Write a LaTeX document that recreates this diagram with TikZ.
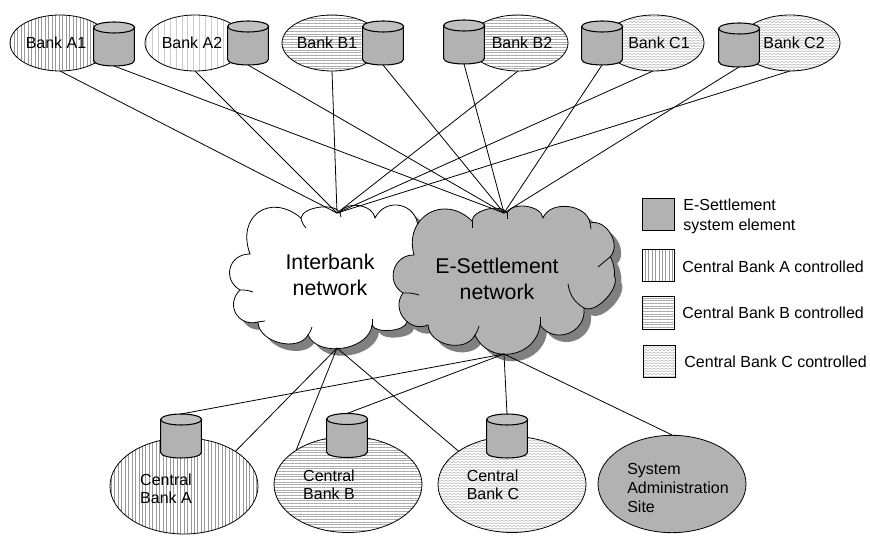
\documentclass[tikz,border=0pt]{standalone}
\usepackage{fontspec}
\setmainfont{Liberation Sans}
\usetikzlibrary{shapes.geometric,patterns,patterns.meta}
\definecolor{elemgray}{HTML}{B2B2B2}
\definecolor{endgray}{HTML}{C0C0C0}
\definecolor{shadowgray}{HTML}{808080}
\pgfdeclarepatternformonly{wavy}{\pgfqpoint{-1pt}{-1pt}}{\pgfqpoint{4pt}{3pt}}{\pgfqpoint{3pt}{2pt}}{
  \pgfsetlinewidth{0.25pt}
  \pgfpathmoveto{\pgfqpoint{0pt}{0.5pt}}
  \pgfpathlineto{\pgfqpoint{1.5pt}{1.5pt}}
  \pgfpathlineto{\pgfqpoint{3pt}{0.5pt}}
  \pgfusepath{stroke}
}
\tikzset{
  ctrlA/.style={pattern={Lines[angle=90,distance=2.6pt,line width=0.25pt]},pattern color=black!40},
  ctrlAwide/.style={pattern={Lines[angle=90,distance=4.4pt,line width=0.5pt]},pattern color=black!20},
  ctrlB/.style={pattern={Lines[angle=0,distance=2pt,line width=0.25pt]},pattern color=black!35},
  ctrlC/.style={pattern=wavy,pattern color=black!40},
  ctrlS/.style={fill=elemgray},
  bank/.style={draw,ellipse,inner sep=0pt,minimum width=75pt,minimum height=42pt},
  central/.style={draw,ellipse,inner sep=0pt,minimum width=111pt,minimum height=72pt},
  storebox/.style={inner sep=0pt,outer sep=0pt,minimum width=30.5pt,minimum height=33pt},
  legendbox/.style={draw,inner sep=0pt,minimum size=24.5pt},
  txt/.style={inner sep=0pt,align=left,font=\fontsize{12}{13.5}\selectfont},
  legendtxt/.style={inner sep=0pt,anchor=west,align=left,font=\fontsize{12}{15}\selectfont},
  cloudtxt/.style={inner sep=0pt,align=center,font=\fontsize{16}{19.5}\selectfont},
  puff/.style={bend right=75,looseness=#1}
}
\newcommand{\ibpath}{(250,254) to[puff=1.45] (240,290) to[puff=1.45] (258,322) to[puff=1] (308,335) to[puff=1] (372,325) to[puff=.7] (407,322) -- (418,227) to[puff=1.4] (375,218) to[puff=1] (340,213) to[puff=.75] (301,218) to[puff=1.65] cycle}
\newcommand{\espath}{(414,255) to[puff=1.35] (403,293) to[puff=1.3] (428,325) to[puff=1.1] (475,335) to[puff=1.3] (540,325) to[puff=1.35] (584,308) to[puff=.8] (614,275) to[puff=.3] (610,257) to[puff=1.1] (590,223) to[puff=1.05] (543,218) to[puff=.9] (507,213) to[puff=.8] (472,221) to[puff=1.5] cycle}
\newcommand{\store}[3]{
\node[storebox] (#1) at (#2,#3) {};
\draw[line width=.8pt,fill=elemgray] ([shift={(0,5.5)}]#1.north west) -- ([shift={(0,-5.5)}]#1.south west) .. controls ([shift={(0,1.8)}]#1.south west) and ([shift={(0,1.8)}]#1.south east) .. ([shift={(0,-5.5)}]#1.south east) -- ([shift={(0,5.5)}]#1.north east) -- cycle;
\draw[line width=.8pt,fill=endgray] ([shift={(20.5,5.5)}]#1.north west) ellipse [x radius=20.5,y radius=5.5];
}
\begin{document}
\begin{tikzpicture}[x=0.75pt,y=-0.75pt,line width=.6pt]
\useasboundingbox (0,0) rectangle (870,538);
\coordinate (ibtop) at (337,213);
\coordinate (ibbot) at (337,348);
\coordinate (estop) at (504,213);
\coordinate (esbot) at (504,354);
\fill[shadowgray,shift={(7,7)}] \ibpath;
\draw[fill=white] \ibpath;
\draw (240,290) to[bend left=10] (253,292);
\draw (258,322) -- (265,321);
\draw (308,335) to[bend right=10] (312,327);
\draw (372,325) -- (372,319);
\draw (301,218) to[bend right=15] (306,228);
\draw (340,213) -- (341,217);
\fill[shadowgray,shift={(7,7)}] \espath;
\draw[fill=elemgray] \espath;
\draw (403,293) to[bend left=10] (419,295);
\draw (475,335) to[bend right=10] (479,326);
\draw (540,325) -- (540,317);
\draw (584,308) to[bend left=25] (568,284);
\draw (610,257) -- (598,267);
\draw (590,223) -- (591,229);
\draw (507,213) -- (507,219);
\draw (472,221) -- (472,228);
\node[cloudtxt] (ibnet) at (330,275) {Interbank\\network};
\node[cloudtxt] (esnet) at (497,279) {E-Settlement\\network};
\coordinate (A1b) at (60,71);
\coordinate (A2b) at (195,71);
\coordinate (B1b) at (332,71);
\coordinate (B2b) at (518,71);
\coordinate (C1b) at (653,71);
\coordinate (C2b) at (790,71);
\draw (A1b) -- (ibtop);
\draw (A2b) -- (ibtop);
\draw (B1b) -- (ibtop);
\draw (B2b) -- (ibtop);
\draw (C1b) -- (ibtop);
\draw (C2b) -- (ibtop);
\node[bank,ctrlA] (A1) at (60,43) {};
\node[bank,ctrlAwide] (A2) at (195,43) {};
\node[bank,ctrlB] (B1) at (332,43) {};
\node[bank,ctrlB] (B2) at (518,43) {};
\node[bank,ctrlC] (C1) at (654,43) {};
\node[bank,ctrlC] (C2) at (790,43) {};
\store{dA1}{114}{44}
\store{dA2}{248}{43}
\store{dB1}{383}{43}
\store{dB2}{464}{42}
\store{dC1}{602}{43}
\store{dC2}{739}{45}
\draw (dA1.south) -- (estop);
\draw (dA2.south) -- (estop);
\draw (dB1.south) -- (estop);
\draw (dB2.south) -- (estop);
\draw (dC1.south) -- (estop);
\draw (dC2.south) -- (estop);
\node[txt] (tA1) at (56,43) {Bank A1};
\node[txt] (tA2) at (192,43) {Bank A2};
\node[txt] (tB1) at (327,43) {Bank B1};
\node[txt] (tB2) at (522,43) {Bank B2};
\node[txt] (tC1) at (659,43) {Bank C1};
\node[txt] (tC2) at (794,43) {Bank C2};
\node[central,ctrlA] (CA) at (184,486) {};
\node[central,ctrlB] (CB) at (348,484.5) {};
\node[central,ctrlC] (CC) at (512,484.5) {};
\node[central,ctrlS,minimum height=73pt] (SA) at (672,484) {};
\store{dCA}{181}{436}
\store{dCB}{347}{435.5}
\store{dCC}{507}{436}
\draw (ibbot) -- (CA.34);
\draw (ibbot) -- (CB.146);
\draw (ibbot) -- (CC.148);
\draw (esbot) -- (dCA.north);
\draw (esbot) -- (dCB.north);
\draw (esbot) -- (dCC.north);
\draw (esbot) -- (SA.north);
\node[txt] (tCA) at (166,489) {Central\\Bank A};
\node[txt] (tCB) at (329,485) {Central\\Bank B};
\node[txt] (tCC) at (493,485) {Central\\Bank C};
\node[txt,font=\fontsize{12}{14.6}\selectfont] (tSA) at (678,488) {System\\Administration\\Site};
\node[legendbox,ctrlS] (lS) at (658.5,214.5) {};
\node[legendbox,ctrlA] (lA) at (658.5,265.5) {};
\node[legendbox,ctrlB] (lB) at (658.5,313) {};
\node[legendbox,ctrlC] (lC) at (659.5,361.5) {};
\node[legendtxt] (tlS) at (683,216) {E-Settlement\\system element};
\node[legendtxt] (tlA) at (682,267) {Central Bank A controlled};
\node[legendtxt] (tlB) at (682,313) {Central Bank B controlled};
\node[legendtxt] (tlC) at (684,362) {Central Bank C controlled};
\end{tikzpicture}
\end{document}
